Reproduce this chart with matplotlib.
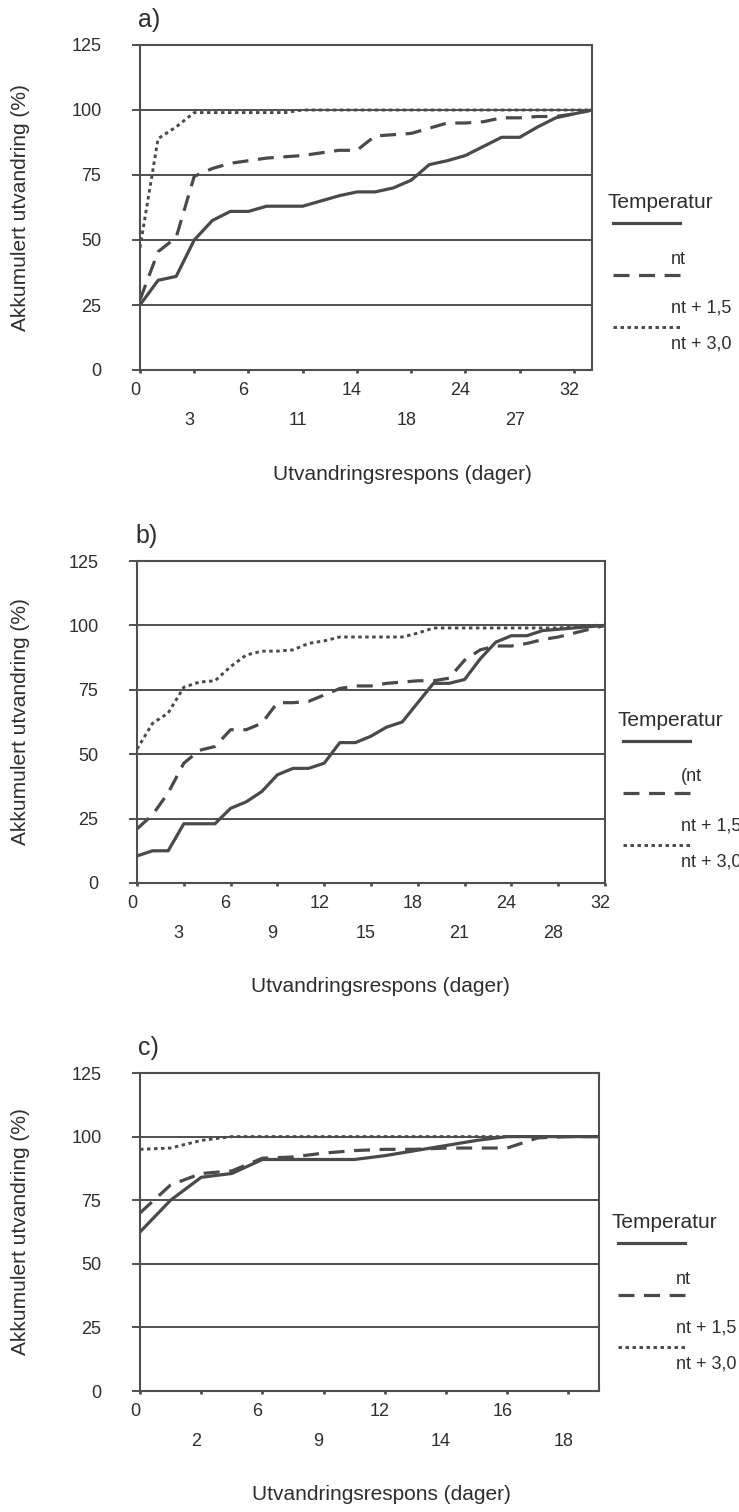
import numpy as np
import matplotlib.pyplot as plt
from matplotlib.lines import Line2D
from matplotlib.transforms import ScaledTranslation

plt.rcParams['font.family'] = ['Liberation Sans', 'DejaVu Sans']

# ---- data (cumulative emigration %, one value per observation day category) ----
# panel a: 26 categories, every 3rd labelled
a_ticks = ['0', '3', '6', '11', '14', '18', '24', '27', '32']
a_nt = [25, 34.5, 36, 50, 57.5, 61, 61, 63, 63, 63, 65, 67, 68.5, 68.5, 70, 73,
        79, 80.5, 82.5, 86, 89.5, 89.5, 93.5, 97, 98.5, 100]
a_nt15 = [27, 45.5, 51, 74.5, 77.5, 79.5, 80.5, 81.5, 82, 82.5, 83.5, 84.5, 84.5,
          90, 90.5, 91, 93, 95, 95, 95.5, 97, 97, 97.5, 97.5, 98.5, 100]
a_nt30 = [47, 89, 93.5, 99, 99, 99, 99, 99, 99, 100, 100, 100, 100, 100, 100, 100,
          100, 100, 100, 100, 100, 100, 100, 100, 100, 100]

# panel b: 31 categories, every 3rd labelled
b_ticks = ['0', '3', '6', '9', '12', '15', '18', '21', '24', '28', '32']
b_nt = [10.5, 12.5, 12.5, 23, 23, 23, 29, 31.5, 35.5, 42,
        44.5, 44.5, 46.5, 54.5, 54.5, 57, 60.5, 62.5, 70, 77.5,
        77.5, 79, 87, 93.5, 96, 96, 98, 98.5, 99, 99.5, 100]
b_nt15 = [21, 26.5, 35, 46.5, 51.5, 53, 59.5, 59.5, 62, 70,
          70, 70.5, 73, 75.5, 76.5, 76.5, 77.5, 78, 78.5, 78.5,
          79.5, 86.5, 90.5, 92, 92, 93, 94.5, 95.5, 97, 98.5, 100]
b_nt30 = [52, 62, 66, 76, 78, 78.5, 84, 88.5, 90, 90,
          90.5, 93, 94, 95.5, 95.5, 95.5, 95.5, 95.5, 97, 99,
          99, 99, 99, 99, 99, 99, 99, 99, 99.5, 100, 100]

# panel c: 16 categories, every 2nd labelled
c_ticks = ['0', '2', '6', '9', '12', '14', '16', '18']
c_nt = [62.5, 75, 84, 85.5, 91, 91, 91, 91, 92.5, 94.5, 96.5, 98.5, 100, 100, 100, 100]
c_nt15 = [70, 81, 85.5, 86.5, 91.5, 92, 93.5, 94.5, 95, 95, 95.5, 95.5, 95.5, 99.5, 100, 100]
c_nt30 = [95, 95.5, 98.5, 100, 100, 100, 100, 100, 100, 100, 100, 100, 100, 100, 100, 100]

W, H = 739, 1512
ink = '#4a4a4a'
grid_ink = '#4f4f4f'
txt = '#2e2e2e'

fig = plt.figure(figsize=(W / 100, H / 100), dpi=100)
fig.patch.set_facecolor('white')


def fx(x):
    return x / W


def fy(y):
    return 1 - y / H


def panel(box, tag, step, ticks, s1, s2, s3, key_x, key_y, key_lab, xlab_x):
    left, top, right, bottom = box
    ax = fig.add_axes([fx(left), fy(bottom), (right - left) / W, (bottom - top) / H])
    x = np.arange(len(s1))
    ax.plot(x, s1, color=ink, lw=2.3)
    ax.plot(x, s2, color=ink, lw=2.3, ls=(0, (5, 3)))
    ax.plot(x, s3, color=ink, lw=2.1, ls=(0, (1.2, 1.2)))
    ax.set_xlim(0, len(s1) - 1)
    ax.set_ylim(0, 125)

    ax.set_yticks([0, 25, 50, 75, 100, 125])
    ax.yaxis.grid(True, color=grid_ink, lw=1.4)
    ax.tick_params(axis='y', length=5.8, width=1.4, pad=22, labelsize=13,
                   color=grid_ink, labelcolor=txt)

    pos = np.arange(len(ticks)) * step
    ax.set_xticks(pos[::2], ticks[::2])
    ax.set_xticks(pos[1::2], ticks[1::2], minor=True)
    ax.tick_params(axis='x', which='both', length=2.5, width=2, labelsize=13,
                   color=grid_ink, labelcolor=txt)
    ax.tick_params(axis='x', which='major', pad=6)
    ax.tick_params(axis='x', which='minor', pad=28)
    shift = ScaledTranslation(-0.05, 0, fig.dpi_scale_trans)
    for lab in ax.get_xticklabels() + ax.get_xticklabels(minor=True):
        lab.set_transform(lab.get_transform() + shift)

    for s in ax.spines.values():
        s.set_color(grid_ink)
        s.set_linewidth(1.5)

    fig.text(fx(left - 2), fy(top - 25), tag, fontsize=18, color=txt, ha='left', va='center')
    fig.text(fx(21), fy((top + bottom) / 2), 'Akkumulert utvandring (%)', rotation=90,
             fontsize=15, color=txt, ha='center', va='center')
    fig.text(fx(xlab_x), fy(bottom + 104), 'Utvandringsrespons (dager)',
             fontsize=15, color=txt, ha='center', va='center')

    # hand-made key, as in the original
    fig.text(fx(key_x), fy(key_y), 'Temperatur', fontsize=15, color=txt, ha='left', va='center')
    styles = [dict(lw=2.3), dict(lw=2.3, ls=(0, (5, 3))), dict(lw=2.1, ls=(0, (1.2, 1.2)))]
    for dy, st in zip([20, 72, 124], styles):
        fig.add_artist(Line2D([fx(key_x + 6), fx(key_x + 73)], [fy(key_y + dy)] * 2,
                              transform=fig.transFigure, color=ink, **st))
    for dy, lab in zip([56, 105, 141], [key_lab, 'nt + 1,5', 'nt + 3,0']):
        fig.text(fx(key_x + 64), fy(key_y + dy), lab, fontsize=13, color=txt,
                 ha='left', va='center')
    return ax


panel((140, 45, 592, 370), 'a)', 3, a_ticks, a_nt, a_nt15, a_nt30, 607, 203, 'nt', 402)
panel((137, 561, 605, 883), 'b)', 3, b_ticks, b_nt, b_nt15, b_nt30, 617, 721, '(nt', 380)
panel((140, 1073, 599, 1391), 'c)', 2, c_ticks, c_nt, c_nt15, c_nt30, 612, 1223, 'nt', 381)

fig.savefig('out.png', dpi=100, facecolor='white')
